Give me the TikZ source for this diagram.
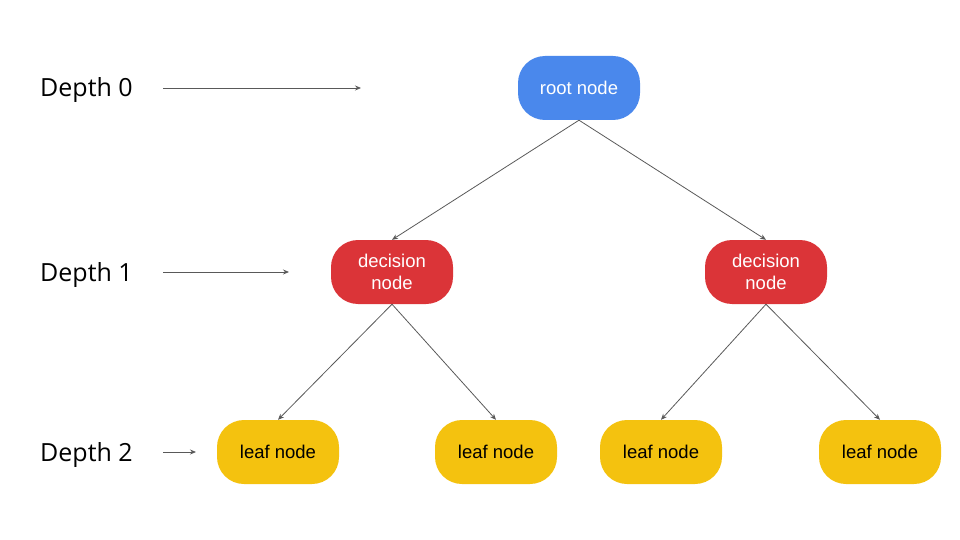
\documentclass[tikz,border=0pt]{standalone}
\usepackage{fontspec}
\setmainfont{Liberation Sans}
\newfontfamily\depthfont{Open Sans}
\usetikzlibrary{arrows.meta}
\definecolor{rootblue}{HTML}{4A88EC}
\definecolor{decred}{HTML}{DB3438}
\definecolor{leafyellow}{HTML}{F4C20F}
\definecolor{edgegray}{HTML}{595959}
\tikzset{
  treenode/.style={rectangle, rounded corners=27pt, minimum width=122pt,
    minimum height=64pt, inner sep=2pt, align=center,
    font=\fontsize{18.5}{22.5}\selectfont},
  depthlabel/.style={anchor=base west, inner sep=0pt, font=\depthfont\fontsize{25}{29}\selectfont},
}
\begin{document}
\begin{tikzpicture}[x=1pt, y=-1pt]
  \useasboundingbox (0,0) rectangle (960,540);
  \draw
    (579,88) node[treenode, fill=rootblue, text=white] (r){root node}
    (392,272) node[treenode, fill=decred, text=white] (d1){decision\\node}
    (766,272) node[treenode, fill=decred, text=white] (d2){decision\\node}
    (278,452) node[treenode, fill=leafyellow] (l1){leaf node}
    (496,452) node[treenode, fill=leafyellow] (l2){leaf node}
    (661,452) node[treenode, fill=leafyellow] (l3){leaf node}
    (880,452) node[treenode, fill=leafyellow] (l4){leaf node};
  \draw
    (40,97) node[depthlabel] (t0){Depth 0}
    (40,281) node[depthlabel] (t1){Depth 1}
    (40,461) node[depthlabel] (t2){Depth 2};
  \coordinate (a0) at (163,88);
  \coordinate (b0) at (361,88);
  \coordinate (a1) at (163,272);
  \coordinate (b1) at (289,272);
  \coordinate (a2) at (163,452);
  \coordinate (b2) at (196,452);
  \begin{scope}[-{Stealth[length=6pt, width=5pt]}, draw=edgegray, line width=0.8pt]
    \draw (r.south) to (d1.north);
    \draw (r.south) to (d2.north);
    \draw (d1.south) to (l1.north);
    \draw (d1.south) to (l2.north);
    \draw (d2.south) to (l3.north);
    \draw (d2.south) to (l4.north);
    \draw (a0) to (b0);
    \draw (a1) to (b1);
    \draw (a2) to (b2);
  \end{scope}
\end{tikzpicture}
\end{document}
